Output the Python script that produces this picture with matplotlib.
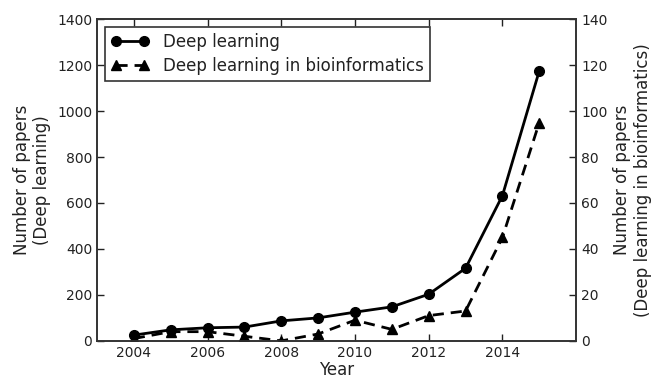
import matplotlib
matplotlib.use("Agg")
import matplotlib.pyplot as plt

years = [2004, 2005, 2006, 2007, 2008, 2009, 2010, 2011, 2012, 2013, 2014, 2015]
deep_learning = [25, 48, 57, 60, 87, 100, 125, 148, 203, 316, 632, 1175]
dl_bioinformatics = [1, 4, 4, 2, 0, 3, 9, 5, 11, 13, 45, 95]

x_ticks = [2004, 2006, 2008, 2010, 2012, 2014]
left_ticks = [0, 200, 400, 600, 800, 1000, 1200, 1400]
right_ticks = [0, 20, 40, 60, 80, 100, 120, 140]

plt.rcParams['font.family'] = ['DejaVu Sans']
text_color = '#222222'

fig, ax = plt.subplots(figsize=(6.51, 3.83), dpi=100)
fig.subplots_adjust(left=0.149, right=0.885, top=0.95, bottom=0.11)
ax2 = ax.twinx()

l1, = ax.plot(years, deep_learning, '-o', color='black', lw=2, ms=7,
              label='Deep learning')
l2, = ax2.plot(years, dl_bioinformatics, '--^', color='black', lw=2, ms=6.5,
               dashes=(4, 2.5), label='Deep learning in bioinformatics')

ax.set_xlim(2003, 2016)
ax.set_ylim(0, 1400)
ax2.set_ylim(0, 140)
ax.set_xticks(x_ticks)
ax.set_yticks(left_ticks)
ax2.set_yticks(right_ticks)

for a in (ax, ax2):
    a.tick_params(direction='in', length=5, width=1, labelsize=10,
                  colors=text_color, labelcolor=text_color)
    for s in a.spines.values():
        s.set_color('#333333')
        s.set_linewidth(1.2)
ax.tick_params(top=True, axis='x')
ax.tick_params(axis='y', left=True)

ax.set_xlabel('Year', fontsize=12, color=text_color, labelpad=1)
ax.set_ylabel('Number of papers\n(Deep learning)', fontsize=12,
              color=text_color, labelpad=4)
ax2.set_ylabel('Number of papers\n(Deep learning in bioinformatics)',
               fontsize=12, color=text_color, rotation=90, labelpad=4)

leg = ax.legend(handles=[l1, l2], loc='upper left', numpoints=2,
                fancybox=False, edgecolor='#333333', fontsize=12,
                handlelength=2.3, borderaxespad=0.5, framealpha=1,
                labelspacing=0.35, borderpad=0.35)
leg.get_frame().set_linewidth(1.2)
for t in leg.get_texts():
    t.set_color(text_color)

fig.savefig('out.png', dpi=100)
